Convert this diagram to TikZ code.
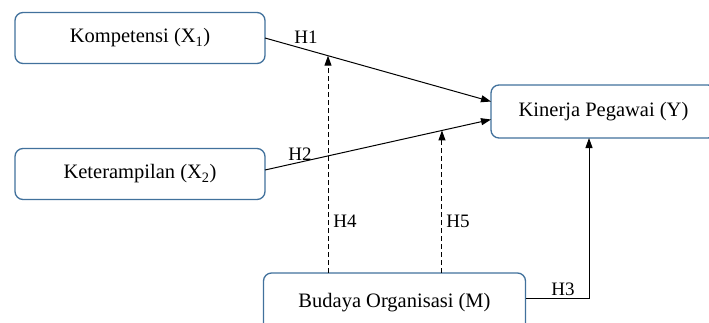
\documentclass[tikz,border=0pt]{standalone}
\usepackage{fontspec}
\setmainfont{Liberation Serif}
\usetikzlibrary{arrows.meta,calc}
\definecolor{boxblue}{RGB}{65,113,156}
\begin{document}
\begin{tikzpicture}[x=1pt,y=-1pt,
  varbox/.style={draw=boxblue,line width=1.3pt,rounded corners=8pt,fill=white,
    minimum width=250pt,minimum height=51pt,inner sep=0pt,outer sep=0pt,
    font=\fontsize{20.5}{24}\selectfont},
  conn/.style={line width=1pt,-{Triangle[length=10pt,width=7pt]}},
  modconn/.style={conn,dash pattern=on 5pt off 3pt},
  hlab/.style={font=\fontsize{19}{22}\selectfont,inner sep=0pt}]
\useasboundingbox (0,0) rectangle (709,322);
\node[varbox] (k) at (140,38) {Kompetensi (X\textsubscript{1})};
\node[varbox] (t) at (140,174) {Keterampilan (X\textsubscript{2})};
\node[varbox,minimum width=225pt,minimum height=53pt] (y) at (603.5,111.5) {Kinerja Pegawai (Y)};
\node[varbox,minimum width=262pt,minimum height=60pt,text depth=0pt] (m) at (394.5,303) {\raisebox{5pt}{Budaya Organisasi (M)}};
\coordinate (h1end) at ([yshift=10pt]y.west);
\coordinate (h2end) at ([yshift=-8pt]y.west);
\coordinate (h2start) at ([yshift=4pt]t.east);
\coordinate (h3start) at ([yshift=5pt]m.east);
\draw[conn] (k.east) -- (h1end);
\draw[conn] (h2start) -- (h2end);
\path (k.east) -- (h1end) coordinate[pos=0.2788] (p1);
\path (h2start) -- (h2end) coordinate[pos=0.783] (p2);
\draw[modconn] (m.north -| p1) -- (p1);
\draw[modconn] (m.north -| p2) -- (p2);
\coordinate (h3x) at (589,0);
\draw[conn] (h3start) -| (y.south -| h3x);
\node[hlab] (l1) at (306,37) {H1};
\node[hlab] (l2) at (300,154) {H2};
\node[hlab] (l4) at (345,221) {H4};
\node[hlab] (l5) at (458,221) {H5};
\node[hlab] (l3) at (563,289) {H3};
\end{tikzpicture}
\end{document}
